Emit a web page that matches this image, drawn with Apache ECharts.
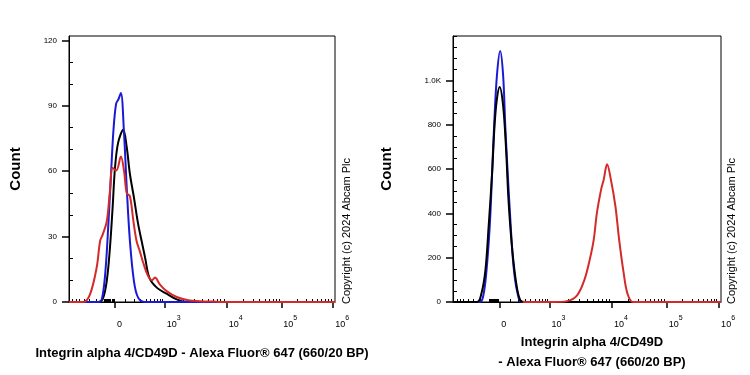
<!DOCTYPE html>
<html><head><meta charset="utf-8">
<script src="https://cdn.jsdelivr.net/npm/echarts@6/dist/echarts.min.js"></script>
<style>html,body{margin:0;padding:0;background:#fff}#c{width:750px;height:375px}</style>
</head><body><div id="c"></div>
<script>
// ---- Data (x = display channel 0..1000 of the biexponential axis, y = count) ----
const leftBlueX  = [0, 114, 127, 138, 148, 158, 167, 177, 186, 195, 207, 217, 229, 244, 260, 286, 1000];
const leftBlueY  = [0, 0, 3.5, 15.8, 35.7, 58.7, 78.6, 90.9, 93, 95.8, 77, 52.5, 28, 9.7, 2, 0, 0];
const leftBlackX = [0, 110, 127, 142, 154, 164, 173, 185, 204, 217, 229, 244, 260, 273, 286, 302, 330, 367, 405, 442, 1000];
const leftBlackY = [0, 0, 1.4, 9.7, 25, 43.4, 61.7, 73.2, 79, 71, 58.7, 48, 35.7, 28, 20.4, 11.2, 6.6, 3.8, 1.2, 0, 0];
const leftRedX   = [0, 54, 79, 104, 117, 127, 142, 154, 164, 178, 195, 207, 217, 229, 242, 254, 267, 279, 297, 312, 323, 342, 367, 405, 448, 492, 541, 575, 1000];
const leftRedY   = [0, 0, 3.5, 15.8, 28, 31, 37, 51, 61.5, 60.3, 66.7, 60, 50, 48.5, 37.2, 28, 23, 18, 12, 10, 11.2, 8, 5, 2.3, 0.8, 0.4, 0.2, 0, 0];

const rightBlueX  = [0, 99, 112, 124, 137, 146, 154, 164, 176, 187, 195, 204, 214, 226, 241, 257, 1000];
const rightBlueY  = [0, 0, 23, 129, 341, 584, 811, 1023, 1132, 1023, 795, 584, 371, 159, 38, 0, 0];
const rightBlackX = [0, 90, 106, 121, 133, 146, 155, 164, 174, 187, 198, 207, 220, 236, 251, 270, 1000];
const rightBlackY = [0, 0, 38, 144, 341, 584, 795, 917, 970, 886, 690, 462, 250, 84, 8, 0, 0];
const rightRedX   = [260, 374, 425, 463, 490, 510, 525, 537, 553, 562, 575, 589, 606, 620, 637, 651, 672, 1000];
const rightRedY   = [0, 0, 4, 30, 99, 190, 280, 402, 509, 550, 621, 553, 432, 280, 129, 38, 0, 0];

// ---- Axis definitions ----
const xMajorValues = [0, 1e3, 1e4, 1e5, 1e6];
const xMajorBase = ['0', '10', '10', '10', '10'];
const xMajorExp  = ['', '3', '4', '5', '6'];
const xMinorValues = [-700,-600,-500,-400,-300,-200,-100,-90,-80,-70,-60,-50,-40,-30,-20,-10,
  100,200,300,400,500,600,700,800,900,
  2e3,3e3,4e3,5e3,6e3,7e3,8e3,9e3,
  2e4,3e4,4e4,5e4,6e4,7e4,8e4,9e4,
  2e5,3e5,4e5,5e5,6e5,7e5,8e5,9e5];
// channel anchors of decades on the display scale
const decadeValues = [1e3, 1e4, 1e5, 1e6];
const decadeChannels = [360, 593, 798, 993];
const zeroChannel = 173, linWidth = 200;

const leftYMajor = [0, 30, 60, 90, 120];
const leftYLabels = ['0', '30', '60', '90', '120'];
const leftYMinor = [10, 20, 40, 50, 70, 80, 100, 110];
const leftYMax = 122;
const rightYMajor = [0, 200, 400, 600, 800, 1000];
const rightYLabels = ['0', '200', '400', '600', '800', '1.0K'];
const rightYMinor = [50,100,150,250,300,350,450,500,550,650,700,750,850,900,950,1050,1100,1150,1200];
const rightYMax = 1200;

const xTitle = 'Integrin alpha 4/CD49D - Alexa Fluor® 647 (660/20 BP)';
const xTitleRight = 'Integrin alpha 4/CD49D\n- Alexa Fluor® 647 (660/20 BP)';
const yTitle = 'Count';
const copyright = 'Copyright (c) 2024 Abcam Plc';

// biexponential-like display transform
const kLin = (decadeChannels[0] - zeroChannel) / Math.asinh(1000 / linWidth);
function T(v) {
  if (v <= 1000) return zeroChannel + kLin * Math.asinh(v / linWidth);
  const lv = Math.log10(v);
  for (let i = 0; i < decadeValues.length - 1; i++) {
    const a = Math.log10(decadeValues[i]), b = Math.log10(decadeValues[i + 1]);
    if (lv <= b) return decadeChannels[i] + (decadeChannels[i + 1] - decadeChannels[i]) * (lv - a) / (b - a);
  }
  return decadeChannels[decadeChannels.length - 1];
}
const xMajorPos = xMajorValues.map(T);
const xMinorPos = xMinorValues.map(T).filter(p => p > 0.5 && p < 999.5);

const FONT = 'Liberation Sans, Arial, sans-serif';
const zip = (xs, ys) => xs.map((x, i) => [x, ys[i]]);

function xLabel(v) {
  let best = 0;
  xMajorPos.forEach((p, i) => { if (Math.abs(p - v) < Math.abs(xMajorPos[best] - v)) best = i; });
  return '{b|' + xMajorBase[best] + '}' + (xMajorExp[best] ? '{s|' + xMajorExp[best] + '}' : '');
}

function xAxesFor(gi) {
  return [{
    type: 'value', gridIndex: gi, min: 0, max: 1000,
    axisLine: { show: true, lineStyle: { color: '#000', width: 1 } },
    splitLine: { show: false },
    axisTick: { show: true, customValues: xMajorPos, length: 6, lineStyle: { color: '#000', width: 1.5 } },
    axisLabel: {
      show: true, customValues: xMajorPos, margin: 13, align: 'left', padding: [0, 0, 0, 2],
      formatter: xLabel,
      rich: {
        b: { fontSize: 9, fontFamily: FONT, color: '#000', lineHeight: 14, verticalAlign: 'bottom' },
        s: { fontSize: 7, fontFamily: FONT, color: '#000', lineHeight: 14, verticalAlign: 'top' }
      }
    }
  }, {
    type: 'value', gridIndex: gi, min: 0, max: 1000,
    axisLine: { show: false }, splitLine: { show: false }, axisLabel: { show: false },
    axisTick: { show: true, customValues: xMinorPos, length: 3, lineStyle: { color: '#000', width: 1 } }
  }];
}
function yAxesFor(gi, major, labels, minor, max) {
  return [{
    type: 'value', gridIndex: gi, min: 0, max: max,
    axisLine: { show: true, lineStyle: { color: '#000', width: 1 } },
    splitLine: { show: false },
    axisTick: { show: true, customValues: major, length: 7, lineStyle: { color: '#000', width: 1.5 } },
    axisLabel: {
      show: true, customValues: major, margin: 12, fontSize: 8, fontFamily: FONT, color: '#000',
      formatter: v => { const i = major.indexOf(v); return i >= 0 ? labels[i] : ''; }
    }
  }, {
    type: 'value', gridIndex: gi, min: 0, max: max,
    axisLine: { show: false }, splitLine: { show: false }, axisLabel: { show: false },
    axisTick: { show: true, customValues: minor, length: 4, lineStyle: { color: '#000', width: 1 } }
  }];
}
function line(xi, yi, data, color) {
  return { type: 'line', xAxisIndex: xi, yAxisIndex: yi, data: data, showSymbol: false, symbol: 'none',
    smooth: 0.35, lineStyle: { color: color, width: 2 }, itemStyle: { color: color }, animation: false, z: 3 };
}

const BLUE = '#1a1ad6', BLACK = '#000000', RED = '#d42a2a';

const chart = echarts.init(document.getElementById('c'), null, { renderer: 'canvas' });
chart.setOption({
  animation: false,
  backgroundColor: '#fff',
  grid: [
    { left: 69, top: 36, width: 266, height: 266, show: true, borderColor: '#000', borderWidth: 1, backgroundColor: 'transparent' },
    { left: 453, top: 36, width: 268, height: 266, show: true, borderColor: '#000', borderWidth: 1, backgroundColor: 'transparent' }
  ],
  xAxis: [...xAxesFor(0), ...xAxesFor(1)],
  yAxis: [...yAxesFor(0, leftYMajor, leftYLabels, leftYMinor, leftYMax), ...yAxesFor(1, rightYMajor, rightYLabels, rightYMinor, rightYMax)],
  series: [
    line(0, 0, zip(leftBlackX, leftBlackY), BLACK),
    line(0, 0, zip(leftBlueX, leftBlueY), BLUE),
    line(0, 0, zip(leftRedX, leftRedY), RED),
    line(2, 2, zip(rightBlueX, rightBlueY), BLUE),
    line(2, 2, zip(rightBlackX, rightBlackY), BLACK),
    line(2, 2, zip(rightRedX, rightRedY), RED)
  ],
  graphic: [
    { type: 'text', x: 16, y: 169, rotation: Math.PI / 2, style: { text: yTitle, font: 'bold 15px ' + FONT, fill: '#000', align: 'center', verticalAlign: 'middle' } },
    { type: 'text', x: 387, y: 169, rotation: Math.PI / 2, style: { text: yTitle, font: 'bold 15px ' + FONT, fill: '#000', align: 'center', verticalAlign: 'middle' } },
    { type: 'text', x: 347, y: 231, rotation: Math.PI / 2, style: { text: copyright, font: '11px ' + FONT, fill: '#000', align: 'center', verticalAlign: 'middle' } },
    { type: 'text', x: 732, y: 231, rotation: Math.PI / 2, style: { text: copyright, font: '11px ' + FONT, fill: '#000', align: 'center', verticalAlign: 'middle' } },
    { type: 'text', x: 202, y: 353, style: { text: xTitle, font: 'bold 13px ' + FONT, fill: '#000', align: 'center', verticalAlign: 'middle' } },
    { type: 'text', x: 592, y: 352, style: { text: xTitleRight, font: 'bold 13px ' + FONT, fill: '#000', align: 'center', verticalAlign: 'middle', lineHeight: 20 } }
  ]
});
</script>
</body></html>
